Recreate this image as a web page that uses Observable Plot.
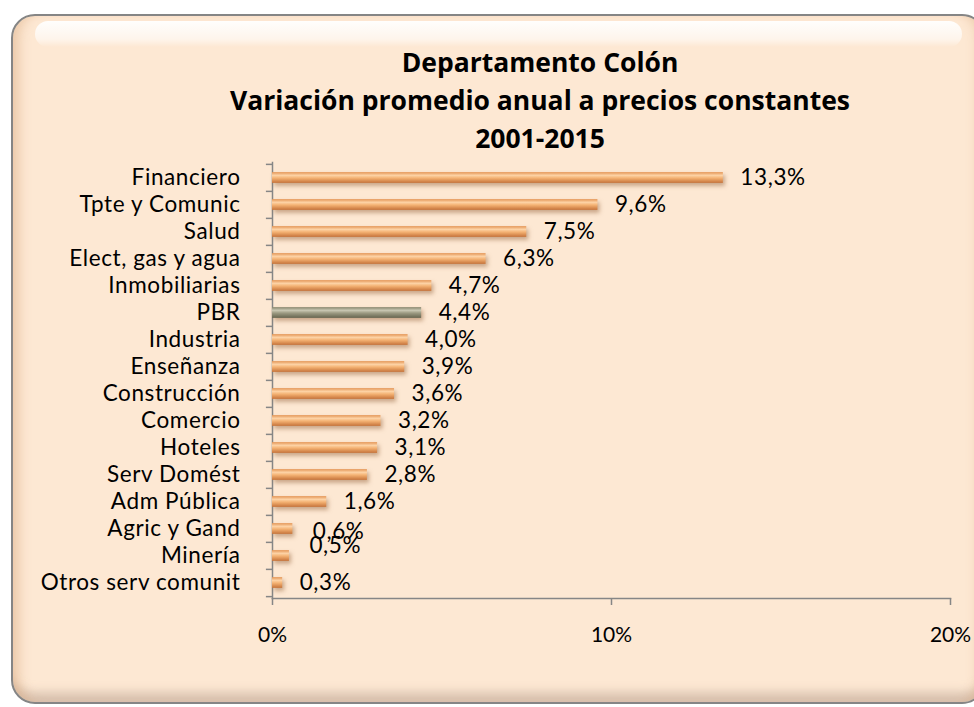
<!DOCTYPE html>
<html>
<head>
<meta charset="utf-8">
<script src="https://cdn.jsdelivr.net/npm/d3@7"></script>
<script src="https://cdn.jsdelivr.net/npm/@observablehq/plot@0.6"></script>
<style>
  html, body { margin: 0; padding: 0; background: #ffffff; }
  #page { position: relative; width: 974px; height: 707px; overflow: hidden; background: #ffffff; font-family: "Open Sans", Lato, sans-serif; }
  #frame { position: absolute; left: 11px; top: 14px; width: 975px; height: 690px; box-sizing: border-box;
    border: 2px solid #858585; border-radius: 24px; background: #FDE8D3;
    box-shadow: inset 14px 0 12px -8px rgba(215,165,120,0.45), inset -14px 0 12px -8px rgba(215,165,120,0.45), inset 0 -18px 10px -8px rgba(190,165,150,0.55); }
  #gloss { position: absolute; left: 22px; right: 22px; top: 5px; height: 26px; border-radius: 13px;
    background: linear-gradient(to bottom, rgba(255,255,255,0.95), rgba(255,255,255,0.55) 70%, rgba(255,255,255,0)); }
  #title { position: absolute; left: 90px; width: 900px; top: 43px; text-align: center; font-weight: 700; font-size: 26.5px; line-height: 38px; color: #000; }
  #chart { position: absolute; left: 0; top: 140px; }
  g[aria-label="bar"] { filter: drop-shadow(2px 3px 2px rgba(150,100,60,0.5)); }
  g[aria-label="x-axis tick label"] { letter-spacing: 0; }
</style>
</head>
<body>
<div id="page">
  <div id="frame"><div id="gloss"></div></div>
  <div id="title">Departamento Colón<br>Variación promedio anual a precios constantes<br>2001-2015</div>
  <div id="chart"></div>
</div>
<script>
const categories = ["Financiero", "Tpte y Comunic", "Salud", "Elect, gas y agua", "Inmobiliarias", "PBR", "Industria", "Enseñanza", "Construcción", "Comercio", "Hoteles", "Serv Domést", "Adm Pública", "Agric y Gand", "Minería", "Otros serv comunit"];
const values = [13.3, 9.6, 7.5, 6.3, 4.7, 4.4, 4.0, 3.9, 3.6, 3.2, 3.1, 2.8, 1.6, 0.6, 0.5, 0.3];
const xTicks = [0, 10, 20];
const highlight = "PBR";

const data = categories.map((c, i) => ({cat: c, v: values[i]}));
const fmt = v => v.toFixed(1).replace(".", ",") + "%";

const W = 974, H = 530, mTop = 22, mBottom = 72;
const bw = (H - mTop - mBottom) / categories.length;
const inset = (bw - 11) / 2;
const axisColor = "#868686";
const raisedUp = ["Agric y Gand"];
const raisedDown = ["Minería"];
const labelFont = "Lato, 'Open Sans', sans-serif";

const chart = Plot.plot({
  width: W, height: H,
  marginLeft: 272, marginRight: 24, marginTop: mTop, marginBottom: mBottom,
  style: {background: "transparent", fontFamily: labelFont, color: "#000", overflow: "visible", letterSpacing: "0.6px"},
  x: {domain: [0, 20], label: null},
  y: {domain: categories, padding: 0, label: null},
  marks: [
    Plot.frame({anchor: "left", stroke: axisColor, strokeWidth: 1.5}),
    Plot.frame({anchor: "bottom", stroke: axisColor, strokeWidth: 1.5}),
    Plot.ruleY(categories, {y: d => d, x1: -0.18, x2: 0, dy: -bw / 2, stroke: axisColor, strokeWidth: 1.5}),
    Plot.ruleY(categories.slice(-1), {y: d => d, x1: -0.18, x2: 0, dy: bw / 2, stroke: axisColor, strokeWidth: 1.5}),
    Plot.axisX({ticks: xTicks, tickSize: 7, tickPadding: 22, tickFormat: d => d + "%", fontSize: 21, stroke: axisColor, strokeWidth: 1.5, fill: "#000"}),
    Plot.axisY({tickSize: 0, tickPadding: 32, fontSize: 22.5, fill: "#000"}),
    Plot.barX(data.filter(d => d.cat !== highlight), {x: "v", y: "cat", fill: "url(#gOrange)", insetTop: inset, insetBottom: inset}),
    Plot.barX(data.filter(d => d.cat === highlight), {x: "v", y: "cat", fill: "url(#gGray)", insetTop: inset, insetBottom: inset}),
    Plot.text(data.filter(d => !raisedUp.includes(d.cat) && !raisedDown.includes(d.cat)), {x: "v", y: "cat", text: d => fmt(d.v), textAnchor: "start", dx: 17, fontSize: 22.5, fill: "#000"}),
    Plot.text(data.filter(d => raisedUp.includes(d.cat)), {x: "v", y: "cat", text: d => fmt(d.v), textAnchor: "start", dx: 20, dy: 3, fontSize: 22.5, fill: "#000"}),
    Plot.text(data.filter(d => raisedDown.includes(d.cat)), {x: "v", y: "cat", text: d => fmt(d.v), textAnchor: "start", dx: 20, dy: -10, fontSize: 22.5, fill: "#000"})
  ]
});

const ns = "http://www.w3.org/2000/svg";
const defs = document.createElementNS(ns, "defs");
function grad(id, stops) {
  const g = document.createElementNS(ns, "linearGradient");
  g.setAttribute("id", id); g.setAttribute("x1", "0"); g.setAttribute("y1", "0"); g.setAttribute("x2", "0"); g.setAttribute("y2", "1");
  stops.forEach(([o, c]) => {
    const s = document.createElementNS(ns, "stop");
    s.setAttribute("offset", o); s.setAttribute("stop-color", c);
    g.appendChild(s);
  });
  defs.appendChild(g);
}
grad("gOrange", [["0", "#E39454"], ["0.3", "#FDD3A6"], ["0.55", "#F4B273"], ["1", "#C6733A"]]);
grad("gGray", [["0", "#87856D"], ["0.3", "#C9C7B2"], ["0.55", "#9C9A82"], ["1", "#66654F"]]);
chart.insertBefore(defs, chart.firstChild);

document.getElementById("chart").appendChild(chart);
</script>
</body>
</html>
